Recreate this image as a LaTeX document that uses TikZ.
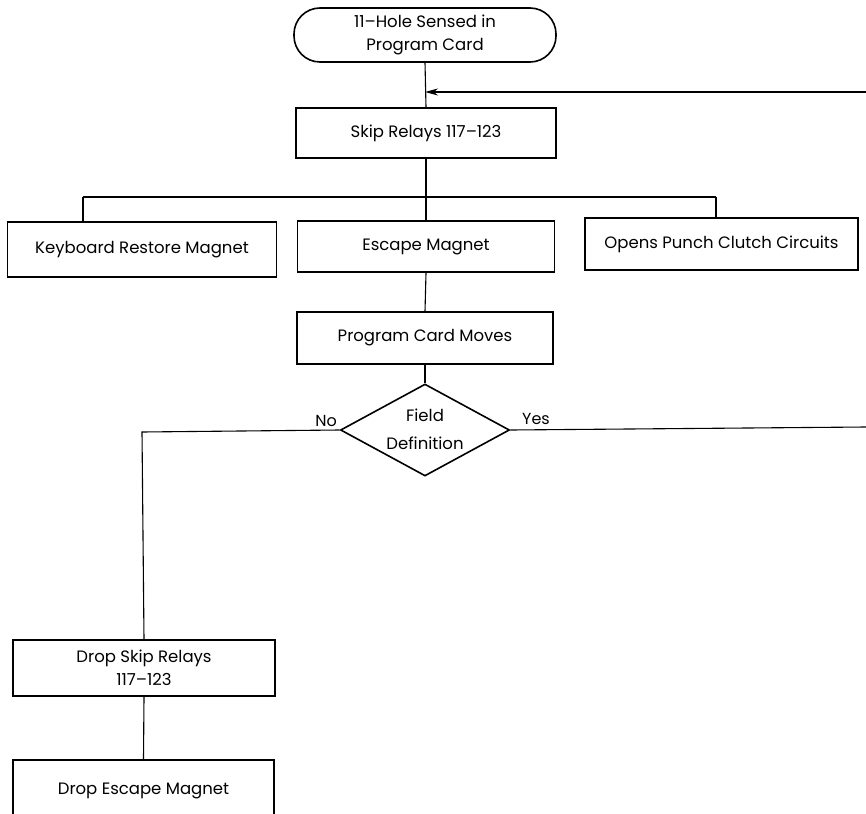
\documentclass[tikz,border=0pt]{standalone}
\usepackage{fontspec}
\setmainfont{Poppins}
\usetikzlibrary{shapes.geometric,arrows.meta}
\begin{document}
\begin{tikzpicture}[x=1pt,y=-1pt,
  box/.style={draw,line width=1.6pt,rectangle,inner sep=0pt,align=center,font=\fontsize{16.5}{23.5}\selectfont},
  term/.style={box,rounded corners=26pt},
  conn/.style={line width=1.1pt},
  lbl/.style={font=\fontsize{16}{19}\selectfont,inner sep=0pt}]
\useasboundingbox (0,0) rectangle (866,813);
\clip (0,0) rectangle (866,813);
\node[term,minimum width=262pt,minimum height=54pt] (t) at (425,35) {11–Hole Sensed in\\Program Card};
\node[box,minimum width=260pt,minimum height=50pt] (skip) at (426,133) {Skip Relays 117–123};
\node[box,minimum width=269pt,minimum height=55pt] (kb) at (142,249.5) {Keyboard Restore Magnet};
\node[box,minimum width=257pt,minimum height=51pt] (esc) at (426,246.5) {Escape Magnet};
\node[box,minimum width=273pt,minimum height=52pt] (opens) at (721.5,244) {Opens Punch Clutch Circuits};
\node[box,minimum width=256pt,minimum height=52pt] (pcm) at (425,338) {Program Card Moves};
\node[draw,line width=1.6pt,diamond,minimum width=169pt,minimum height=92pt,inner sep=0pt] (dia) at (425,430) {};
\node[align=center,font=\fontsize{16.5}{28}\selectfont] (diat) at (425,429) {Field\\Definition};
\node[box,minimum width=262pt,minimum height=56pt] (dskip) at (144,668) {Drop Skip Relays\\117–123};
\node[box,minimum width=261pt,minimum height=62pt] (desc) at (143.5,791) {Drop Escape Magnet};
\coordinate (ret) at (866,92);
\coordinate (bl) at (83,197);
\coordinate (br) at (716,197);
\coordinate (yesend) at (866,427);
\coordinate (nocorner) at (142,432);
\draw[conn] (t.south) -- (skip.north);
\draw[conn,-{Stealth[length=13pt,width=7pt]}] (ret) -- (t.south |- ret);
\draw[conn] (skip.south) -- (esc.north);
\draw[conn] (bl) -- (br);
\draw[conn] (bl) -- (bl |- kb.north);
\draw[conn] (br) -- (br |- opens.north);
\draw[conn] (esc.south) -- (pcm.north);
\draw[conn] (pcm.south) -- (dia.north);
\draw[conn] (dia.west) -- (nocorner) -- (dskip.north);
\draw[conn] (dia.east) -- (yesend);
\draw[conn] (dskip.south) -- (desc.north);
\node[lbl] (no) at (326,421) {No};
\node[lbl] (yes) at (536,419) {Yes};
\end{tikzpicture}
\end{document}
